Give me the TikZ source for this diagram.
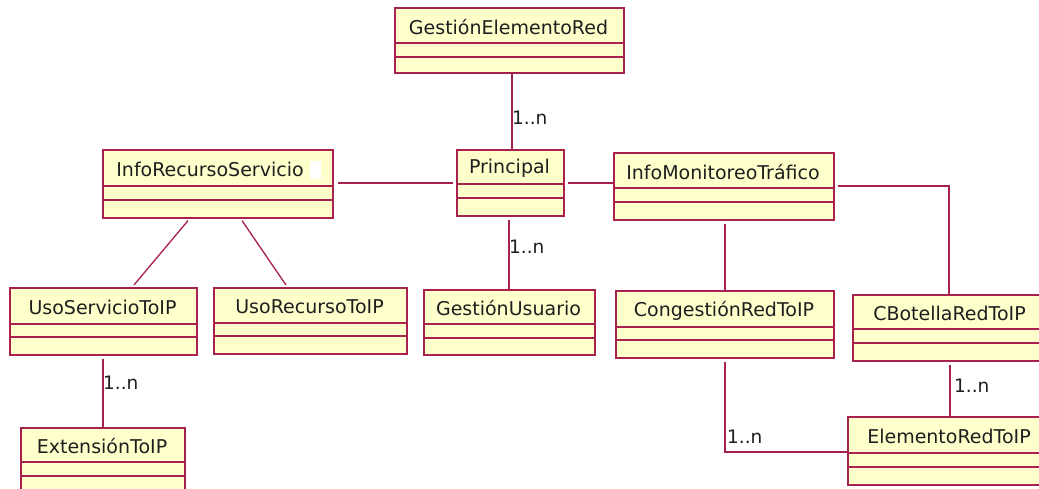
\documentclass[tikz,border=0pt]{standalone}
\usepackage{fontspec}
\setmainfont{DejaVu Sans}
\usetikzlibrary{calc}
\definecolor{umlborder}{HTML}{A8204E}
\definecolor{umlfill}{HTML}{FFFFCC}
\definecolor{umltext}{HTML}{1E1E1E}
\tikzset{
  classbox/.style={draw=umlborder, fill=umlfill, line width=1.6pt, inner sep=0pt, anchor=north west},
  classname/.style={font=\fontsize{19}{21}\selectfont, text=umltext, inner sep=0pt},
  divider/.style={draw=umlborder, line width=1.6pt},
  assoc/.style={draw=umlborder, line width=1.3pt},
  mult/.style={font=\fontsize{18.5}{21}\selectfont, text=umltext, inner sep=0pt, anchor=west}
}
% \umlclass{name}{left}{top}{right}{bottom}{divider 1}{divider 2}{text}
\newcommand\umlclass[8]{%
  \node[classbox, minimum width={(#4-#2)*1pt}, minimum height={(#5-#3)*1pt}] (#1) at (#2,#3) {};
  \node[classname] (#1-name) at ({(#2+#4)/2},{(#3+#6)/2+2}) {#8};
  \draw[divider] (#2,#6) -- (#4,#6);
  \draw[divider] (#2,#7) -- (#4,#7);
}
\begin{document}
\begin{tikzpicture}[x=1pt, y=-1pt]
  \useasboundingbox (0,0) rectangle (1039,489);
  \clip (0,0) rectangle (1039,489);
  \fill[white] (0,0) rectangle (1039,489);

  % classes
  \umlclass{ger}{394}{7}{623}{72}{43}{57}{GestiónElementoRed}
  \umlclass{irs}{102}{149}{332}{217}{186}{200}{InfoRecursoServicio\rule{14pt}{0pt}}
  \fill[white] (310,161) rectangle (321,179);
  \umlclass{prin}{456}{149}{563}{215}{184}{198}{Principal}
  \umlclass{imt}{613}{152}{833}{219}{188}{202}{InfoMonitoreoTráfico}
  \umlclass{usi}{9}{287}{196}{354}{324}{337}{UsoServicioToIP}
  \umlclass{uri}{213}{287}{406}{353}{323}{336}{UsoRecursoToIP}
  \umlclass{gu}{423}{289}{594}{354}{324}{338}{GestiónUsuario}
  \umlclass{cri}{615}{290}{833}{357}{327}{340}{CongestiónRedToIP}
  \umlclass{cbr}{852}{294}{1047}{360}{329}{343}{CBotellaRedToIP}
  \umlclass{eri}{847}{416}{1051}{484}{453}{467}{ElementoRedToIP}
  \umlclass{ext}{20}{427}{184}{493}{462}{476}{ExtensiónToIP}

  % helper coordinates for connector lines
  \coordinate (xger) at (512,0);
  \coordinate (xgu) at (509,0);
  \coordinate (xcri) at (725,0);
  \coordinate (xcbr) at (950,0);
  \coordinate (xext) at (103,0);
  \coordinate (ymid) at (0,183);
  \coordinate (ybend) at (949,186);
  \coordinate (ycorner) at (725,452);

  % associations
  \draw[assoc] (ger.south -| xger) -- (prin.north -| xger);
  \node[mult] (m1) at (512,118) {1..n};

  \draw[assoc, shorten <=4pt, shorten >=3pt] (irs.east |- ymid) -- (prin.west |- ymid);
  \draw[assoc, shorten <=3pt] (prin.east |- ymid) -- (imt.west |- ymid);

  \draw[assoc, shorten <=3pt] (prin.south -| xgu) -- (gu.north -| xgu);
  \node[mult] (m2) at (509,247) {1..n};

  \draw[assoc, shorten <=3pt] (imt.east |- ybend) -- (ybend) -- (cbr.north -| ybend);
  \draw[assoc, shorten <=3pt] (imt.south -| xcri) -- (cri.north -| xcri);

  \draw[assoc, shorten <=3pt] (cri.south -| xcri) -- (ycorner) -- (eri.west |- ycorner);
  \node[mult] (m3) at (727,437) {1..n};

  \draw[assoc, shorten <=3pt] (cbr.south -| xcbr) -- (eri.north -| xcbr);
  \node[mult] (m4) at (954,386) {1..n};

  \draw[assoc] ($(irs.south west)+(86,2)$) -- ($(usi.north west)+(125,-2)$);
  \draw[assoc] ($(irs.south west)+(140,2)$) -- ($(uri.north west)+(73,-2)$);

  \draw[assoc, shorten <=3pt] (usi.south -| xext) -- (ext.north -| xext);
  \node[mult] (m5) at (103,383) {1..n};
\end{tikzpicture}
\end{document}
